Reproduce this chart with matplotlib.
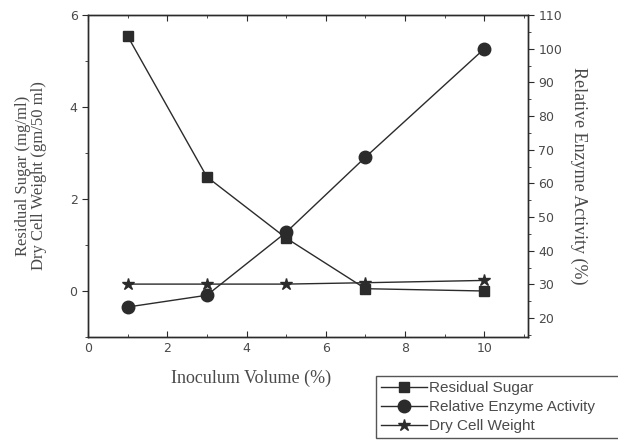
import matplotlib
matplotlib.use("Agg")
import matplotlib.pyplot as plt
from matplotlib.ticker import MultipleLocator

# data
inoculum = [1, 3, 5, 7, 10]
residual_sugar = [5.54, 2.48, 1.15, 0.05, 0.0]
enzyme_activity = [23.3, 26.8, 45.5, 67.8, 100.0]
dry_cell_weight = [0.15, 0.15, 0.15, 0.18, 0.23]

ink = "#2b2b2b"
txt = "#4a4a4a"

fig = plt.figure(figsize=(6.18, 4.4), dpi=100)
ax = fig.add_axes([88 / 618, 1 - 337 / 440, 440 / 618, 322 / 440])
ax2 = ax.twinx()

l1, = ax.plot(inoculum, residual_sugar, color=ink, lw=1.0, marker="s", ms=7.5, mfc=ink, mec=ink)
l3, = ax.plot(inoculum, dry_cell_weight, color=ink, lw=1.0, marker="*", ms=9, mfc=ink, mec=ink)
l2, = ax2.plot(inoculum, enzyme_activity, color=ink, lw=1.0, marker="o", ms=9, mfc=ink, mec=ink)

ax.set_xlim(0, 11.1)
ax.set_ylim(-1.0, 6.0)
ax2.set_ylim(14.4, 110)

ax.xaxis.set_major_locator(MultipleLocator(2))
ax.xaxis.set_minor_locator(MultipleLocator(1))
ax.yaxis.set_major_locator(MultipleLocator(2))
ax.yaxis.set_minor_locator(MultipleLocator(1))
ax2.yaxis.set_major_locator(MultipleLocator(10))
ax2.yaxis.set_minor_locator(MultipleLocator(5))

for a in (ax, ax2):
    for s in a.spines.values():
        s.set_color(ink)
        s.set_linewidth(1.0)

for a, axis in ((ax, "x"), (ax, "y"), (ax2, "y")):
    a.tick_params(axis=axis, which="both", direction="out", colors=ink, labelcolor=txt, labelsize=9)
    a.tick_params(axis=axis, which="major", length=4)
    a.tick_params(axis=axis, which="minor", length=2.5)
ax.tick_params(axis="x", which="both", top=True, direction="in")

serif = ["Liberation Serif", "DejaVu Serif"]
ax.set_xlabel("Inoculum Volume (%)", family=serif, fontsize=13, color=txt)
ax.xaxis.set_label_coords(0.37, -0.102)
ax.set_ylabel("Residual Sugar (mg/ml)\nDry Cell Weight (gm/50 ml)", family=serif, fontsize=12,
              color=txt, labelpad=16, linespacing=1.05)
ax2.set_ylabel("Relative Enzyme Activity (%)", family=serif, fontsize=13, color=txt,
               rotation=-90, labelpad=18)

leg = fig.legend([l1, l2, l3], ["Residual Sugar", "Relative Enzyme Activity", "Dry Cell Weight"],
                 loc="upper left", mode="expand",
                 bbox_to_anchor=(376 / 618, 1 - 438 / 440, (630 - 376) / 618, (438 - 376) / 440),
                 prop={"family": ["Liberation Sans", "DejaVu Sans"], "size": 11},
                 frameon=True, fancybox=False, edgecolor=ink, handlelength=3.0,
                 handletextpad=0.1, labelspacing=0.32, borderpad=0.35, borderaxespad=0)
leg.get_frame().set_linewidth(1.0)
for t in leg.get_texts():
    t.set_color(txt)

fig.savefig("out.png", dpi=100)
